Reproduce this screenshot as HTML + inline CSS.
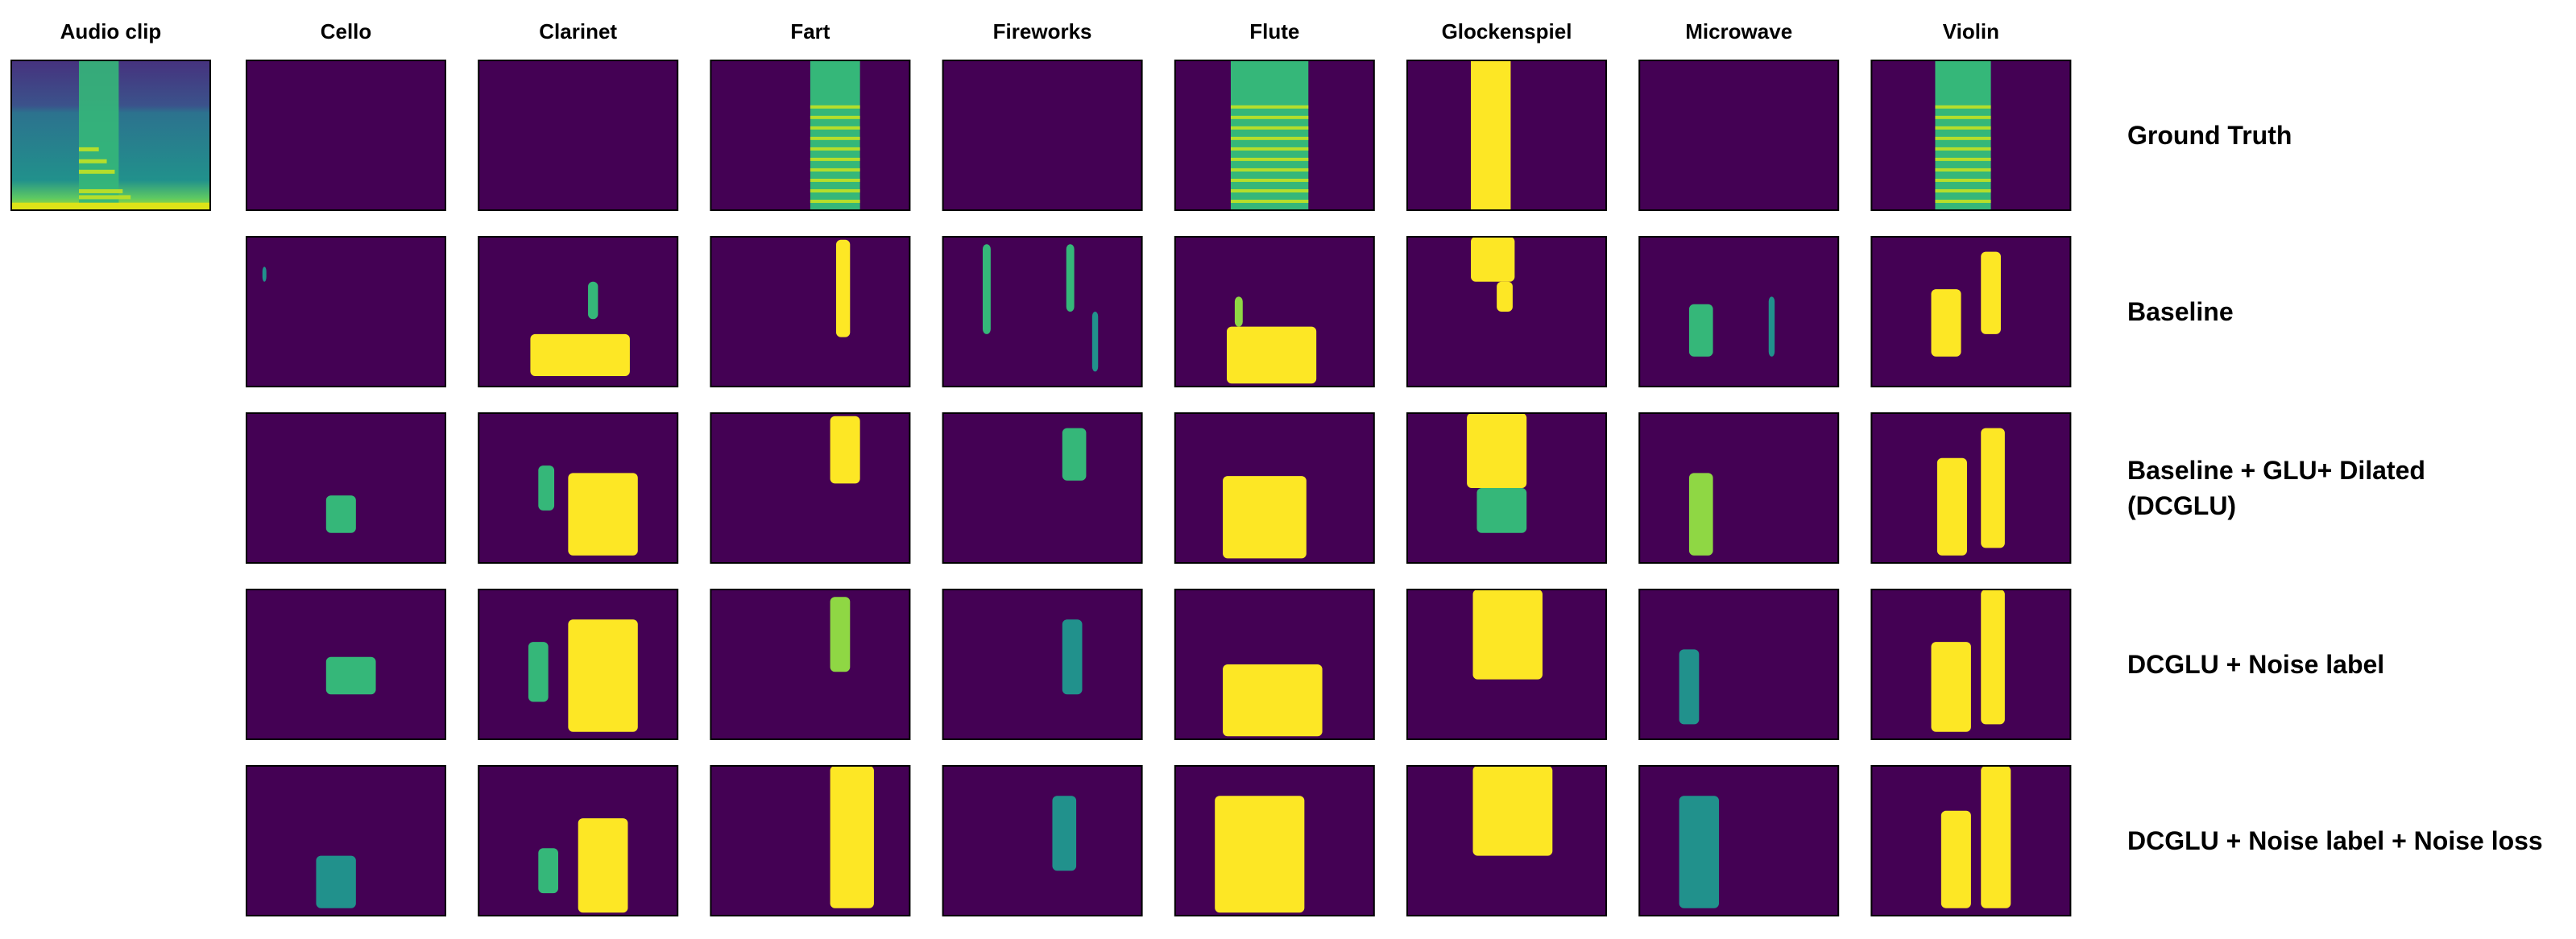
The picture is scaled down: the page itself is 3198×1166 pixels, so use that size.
<!DOCTYPE html>
<html><head><meta charset="utf-8">
<style>
html,body{margin:0;padding:0;background:#fff;}
body{width:3198px;height:1161px;overflow:hidden;font-family:"Liberation Sans","Noto Sans CJK KR",sans-serif;}
svg text{font-family:"Liberation Sans","Noto Sans CJK KR",sans-serif;font-weight:bold;fill:#000;}
</style></head>
<body>
<svg id="fig" width="3198" height="1161" xmlns="http://www.w3.org/2000/svg"></svg>
<script>
const columns = ["Cello","Clarinet","Fart","Fireworks","Flute","Glockenspiel","Microwave","Violin"];
const rowLabels = [["Ground Truth"],["Baseline"],["Baseline + GLU+ Dilated","(DCGLU)"],["DCGLU + Noise label"],["DCGLU + Noise label + Noise loss"]];
// ground truth band per column [x0,x1] relative (null = empty)
const groundTruth = [null,null,[0.5,0.75],null,[0.28,0.67],[0.32,0.52],null,[0.32,0.6]];
// prediction blobs per row (1..4), per column: [x,y,w,h,intensity] relative
const predBaseline = [
 [[0.08,0.2,0.02,0.1,0.4]],
 [[0.26,0.65,0.5,0.28,1],[0.55,0.3,0.05,0.25,0.6]],
 [[0.63,0.02,0.07,0.65,1]],
 [[0.2,0.05,0.04,0.6,0.5],[0.62,0.05,0.04,0.45,0.6],[0.75,0.5,0.03,0.4,0.4]],
 [[0.26,0.6,0.45,0.38,1],[0.3,0.4,0.04,0.2,0.8]],
 [[0.32,0.0,0.22,0.3,1],[0.45,0.3,0.08,0.2,1]],
 [[0.25,0.45,0.12,0.35,0.6],[0.65,0.4,0.03,0.4,0.4]],
 [[0.3,0.35,0.15,0.45,1],[0.55,0.1,0.1,0.55,1]]
];
const predDCGLU = [
 [[0.4,0.55,0.15,0.25,0.5]],
 [[0.45,0.4,0.35,0.55,1],[0.3,0.35,0.08,0.3,0.5]],
 [[0.6,0.02,0.15,0.45,1]],
 [[0.6,0.1,0.12,0.35,0.5]],
 [[0.24,0.42,0.42,0.55,1]],
 [[0.3,0.0,0.3,0.5,1],[0.35,0.5,0.25,0.3,0.6]],
 [[0.25,0.4,0.12,0.55,0.8]],
 [[0.33,0.3,0.15,0.65,1],[0.55,0.1,0.12,0.8,1]]
];
const predNoiseLabel = [
 [[0.4,0.45,0.25,0.25,0.6]],
 [[0.45,0.2,0.35,0.75,1],[0.25,0.35,0.1,0.4,0.5]],
 [[0.6,0.05,0.1,0.5,0.8]],
 [[0.6,0.2,0.1,0.5,0.4]],
 [[0.24,0.5,0.5,0.48,1]],
 [[0.33,0.0,0.35,0.6,1]],
 [[0.2,0.4,0.1,0.5,0.4]],
 [[0.3,0.35,0.2,0.6,1],[0.55,0.0,0.12,0.9,1]]
];
const predNoiseLoss = [
 [[0.35,0.6,0.2,0.35,0.4]],
 [[0.5,0.35,0.25,0.63,1],[0.3,0.55,0.1,0.3,0.5]],
 [[0.6,0.0,0.22,0.95,1]],
 [[0.55,0.2,0.12,0.5,0.4]],
 [[0.2,0.2,0.45,0.78,1]],
 [[0.33,0.0,0.4,0.6,1]],
 [[0.2,0.2,0.2,0.75,0.4]],
 [[0.35,0.3,0.15,0.65,1],[0.55,0.0,0.15,0.95,1]]
];
const preds = [predBaseline, predDCGLU, predNoiseLabel, predNoiseLoss];

const NS="http://www.w3.org/2000/svg";
const svg=document.getElementById('fig');
const X0=306, DX=288.2, W=247, Y0=75, DY=219, H=186;
const colX=i=>X0+i*DX, rowY=r=>Y0+r*DY;
function mk(tag,attrs,parent){const e=document.createElementNS(NS,tag);for(const k in attrs)e.setAttribute(k,attrs[k]);(parent||svg).appendChild(e);return e;}
function color(v){return v>=0.9?"#fde725":v>=0.7?"#8fd744":v>=0.5?"#35b779":"#21918c";}

const t0=mk('text',{x:14+W/2,y:48,'font-size':26,'text-anchor':'middle'});
t0.textContent="Audio clip";


columns.forEach((c,i)=>{
 const t=mk('text',{x:colX(i)+W/2,y:48,'font-size':26,'text-anchor':'middle'});
 t.textContent=c;
 
 
});
const ag=mk('g',{});


const grad=mk('linearGradient',{id:'ag',x1:0,y1:0,x2:0,y2:1},mk('defs',{}));
[[0,'#46327e'],[0.3,'#3b528b'],[0.35,'#2c728e'],[0.8,'#21918c'],[0.92,'#5ec962'],[1,'#bddf26']].forEach(s=>mk('stop',{offset:s[0],'stop-color':s[1]},grad));
mk('rect',{x:14,y:75,width:W,height:H,fill:'url(#ag)'},ag);
mk('rect',{x:14+W*0.34,y:75,width:W*0.2,height:H,fill:'#35b779',opacity:0.9},ag);
[0.58,0.66,0.73,0.86,0.9].forEach((yy,k)=>mk('rect',{x:14+W*0.34,y:75+H*yy,width:W*(0.1+0.04*k),height:5,fill:'#b5de2b'},ag));
mk('rect',{x:14,y:75+H*0.95,width:W,height:H*0.05,fill:'#dde318'},ag);
mk('rect',{x:14,y:75,width:W,height:H,fill:'none',stroke:'#000','stroke-width':2},ag);

for(let r=0;r<5;r++){
 for(let i=0;i<8;i++){
  const g=mk('g',{});
  
  
  const x=colX(i),y=rowY(r);
  mk('rect',{x:x,y:y,width:W,height:H,fill:'#440154'},g);
  if(r===0){
   const b=groundTruth[i];
   if(b){
    const fill=(i===5)?'#fde725':'#35b779';
    mk('rect',{x:x+W*b[0],y:y,width:W*(b[1]-b[0]),height:H,fill:fill},g);
    if(i!==5)for(let k=0;k<10;k++)mk('rect',{x:x+W*b[0],y:y+H*(0.3+k*0.07),width:W*(b[1]-b[0]),height:4,fill:'#b5de2b'},g);
   }
  } else {
   preds[r-1][i].forEach(bl=>{
    mk('rect',{x:x+W*bl[0],y:y+H*bl[1],width:W*bl[2],height:H*bl[3],fill:color(bl[4]),rx:6},g);
   });
  }
  mk('rect',{x:x,y:y,width:W,height:H,fill:'none',stroke:'#000','stroke-width':2},g);
 }
 const lines=rowLabels[r];
 const cy=rowY(r)+H/2;
 lines.forEach((l,k)=>{
  const t=mk('text',{x:2641,y:cy+11+(k-(lines.length-1)/2)*44,'font-size':32});
  t.textContent=l;
  
  
 });
}
</script>
</body></html>
